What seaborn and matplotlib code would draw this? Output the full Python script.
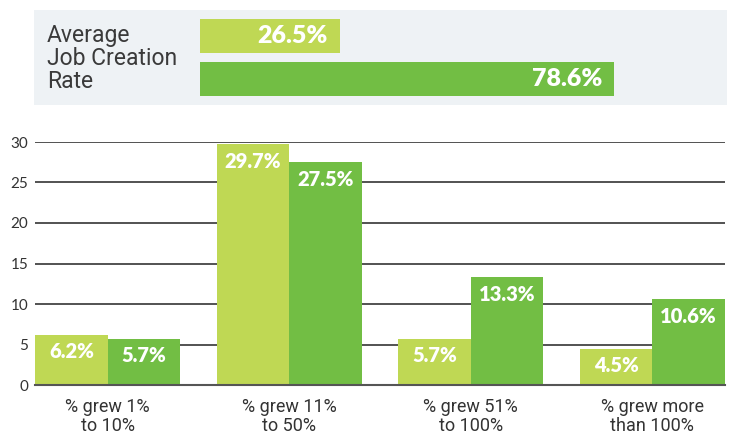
import matplotlib
matplotlib.use("Agg")
import matplotlib.pyplot as plt
import seaborn as sns
import pandas as pd

# ---- data ----
categories = ["% grew 1%\nto 10%", "% grew 11%\nto 50%", "% grew 51%\nto 100%", "% grew more\nthan 100%"]
series_names = ["Group A", "Group B"]
group_a = [6.2, 29.7, 5.7, 4.5]
group_b = [5.7, 27.5, 13.3, 10.6]
avg_rates = [26.5, 78.6]
y_ticks = [0, 5, 10, 15, 20, 25, 30]
summary_title = "Average\nJob Creation\nRate"

light_green = "#BFD854"
dark_green = "#72BE44"
palette = {series_names[0]: light_green, series_names[1]: dark_green}
narrow = ["Roboto", "DejaVu Sans"]

sns.set_theme(style="white")
plt.rcParams["font.family"] = ["Lato", "DejaVu Sans"]

W, H = 733, 436
fig = plt.figure(figsize=(W / 100, H / 100), dpi=100)


def px_rect(x0, y0, x1, y1):
    return [x0 / W, 1 - y1 / H, (x1 - x0) / W, (y1 - y0) / H]


# ---- summary panel ----
bg = fig.add_axes(px_rect(34, 10, 727, 105))
bg.set_facecolor("#EEF2F5")
bg.set_xticks([])
bg.set_yticks([])
for s in bg.spines.values():
    s.set_visible(False)
bg.text(13 / 693, 0.49, summary_title, transform=bg.transAxes, ha="left", va="center",
        fontsize=16.5, color="#3a3a3a", linespacing=1.0, family=narrow)

top = fig.add_axes(px_rect(200, 15, 727, 100))
top_df = pd.DataFrame({"series": series_names, "rate": avg_rates})
sns.barplot(data=top_df, x="rate", y="series", hue="series", palette=palette,
            width=0.8, legend=False, ax=top, saturation=1, linewidth=0)
top.set_xlim(0, 100)
top.set_ylim(1.5, -0.5)
top.axis("off")
for i, v in enumerate(avg_rates):
    top.annotate(f"{v}%", (v, i), xytext=(-12, 0), textcoords="offset pixels",
                 ha="right", va="center", color="white", fontsize=18, fontweight="heavy")

# ---- main grouped bars ----
ax = fig.add_axes(px_rect(35, 142, 725, 385))
main_df = pd.DataFrame({
    "category": categories * 2,
    "series": [series_names[0]] * 4 + [series_names[1]] * 4,
    "value": group_a + group_b,
})
ax.set_axisbelow(True)
for t in y_ticks[1:]:
    ax.axhline(t, color="#444444", lw=1.3, zorder=0)
sns.barplot(data=main_df, x="category", y="value", hue="series", palette=palette,
            width=0.8, gap=0, ax=ax, saturation=1, legend=False, zorder=2, linewidth=0)
ax.set_xlim(-0.4, 3.4)
ax.set_ylim(0, 30)
ax.set_yticks(y_ticks)
ax.set_xlabel("")
ax.set_ylabel("")
for s in ["top", "right", "left"]:
    ax.spines[s].set_visible(False)
ax.spines["bottom"].set_color("#555555")
ax.spines["bottom"].set_linewidth(1.5)
ax.spines["bottom"].set_zorder(3)
ax.tick_params(axis="y", length=0, pad=5, labelsize=11, labelcolor="#333333")
ax.tick_params(axis="x", length=0, pad=9, labelsize=13, labelcolor="#333333")
for lbl in ax.get_xticklabels():
    lbl.set_family(narrow)
    lbl.set_linespacing(1.1)

for container in ax.containers:
    for bar in container:
        h = bar.get_height()
        ax.annotate(f"{h}%", (bar.get_x() + bar.get_width() / 2, h),
                    xytext=(0, -17), textcoords="offset pixels",
                    ha="center", va="center", color="white",
                    fontsize=14.5, fontweight="heavy", zorder=4)

fig.savefig("out.png", dpi=100)
